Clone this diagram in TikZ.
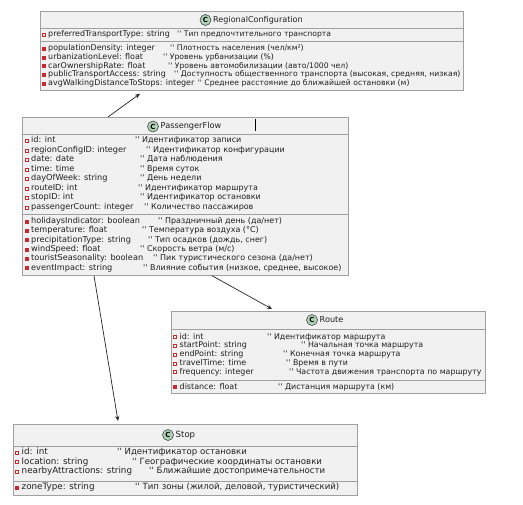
\documentclass[tikz,border=0pt]{standalone}
\usepackage{fontspec}
\setmainfont{DejaVu Sans}[Ligatures=TeXOff]
\usetikzlibrary{arrows.meta}
\definecolor{boxfill}{HTML}{F1F1F1}
\definecolor{boxline}{HTML}{A0A0A0}
\definecolor{iconred}{HTML}{C82930}
\definecolor{circgreen}{HTML}{ADD1B2}
\definecolor{txtcol}{HTML}{202020}
\newcounter{rowc}
\def\fsz{8}\def\csz{7.7}\def\tsz{8.1}
\newcommand\frow[6]{%
  \stepcounter{rowc}%
  \node[#3] (ic\therowc) at (#1,#2) {};
  \node[txt] (fl\therowc) at (#1+4.5,#2) {#4};
  \node[ctxt] (cm\therowc) at (#5,#2) {#6};}
\newcommand\frowr[5]{%
  \stepcounter{rowc}%
  \node[#3] (ic\therowc) at (#1,#2) {};
  \node[txt] (fl\therowc) at (#1+4.5,#2) {#4};
  \node[ctxt] (cm\therowc) at ([xshift=3bp]fl\therowc.east) {#5};}
\newcommand\chead[3]{%
  \stepcounter{rowc}%
  \node[cmark] (cc\therowc) at (#1,#2) {C};
  \node[ttl] (tt\therowc) at (#1+7.5,#2) {#3};}
\tikzset{
  cls/.style={draw=boxline, fill=boxfill, line width=0.7bp, inner sep=0, anchor=north west},
  sepl/.style={draw=boxline, line width=0.7bp},
  pv/.style={draw=iconred, line width=0.45bp, minimum size=3bp, inner sep=0},
  pvf/.style={draw=iconred, fill=iconred, line width=0.45bp, minimum size=3bp, inner sep=0},
  txt/.style={anchor=west, inner sep=0, text=txtcol, font=\fontsize{\fsz}{9}\selectfont, text height=5.6bp, text depth=1.6bp},
  ctxt/.style={anchor=west, inner sep=0, text=txtcol, font=\fontsize{\csz}{9}\selectfont, text height=5.6bp, text depth=1.6bp},
  ttl/.style={anchor=west, inner sep=0, text=txtcol, font=\fontsize{\tsz}{9}\selectfont, text height=5.8bp, text depth=1.7bp},
  cmark/.style={circle, draw=black!80, fill=circgreen, line width=0.5bp, minimum size=11bp, inner sep=0, font=\fontsize{7}{7}\bfseries\selectfont},
  arr/.style={draw=black!85, line width=0.7bp, -{Stealth[length=5bp,width=4.2bp]}}
}
\begin{document}
\begin{tikzpicture}[x=1bp,y=-1bp]
\useasboundingbox[fill=white] (0,0) rectangle (523,505);

% ---------- RegionalConfiguration
\def\fsz{8}\def\csz{7.7}\def\tsz{8.1}
\node[cls, minimum width=423bp, minimum height=79bp] (rc) at (40,11) {};
\draw[sepl] (40,28) -- (463,28);
\draw[sepl] (40,41.5) -- (463,41.5);
\chead{205.5}{20}{RegionalConfiguration}
\frow{43.5}{35}{pv}{preferredTransportType: string}{177}{'' Тип предпочтительного транспорта}
\frow{43.5}{48.5}{pvf}{populationDensity: integer}{170}{'' Плотность населения (чел/км²)}
\frow{43.5}{57.3}{pvf}{urbanizationLevel: float}{163}{'' Уровень урбанизации (\%)}
\frow{43.5}{66.1}{pvf}{carOwnershipRate: float}{168}{'' Уровень автомобилизации (авто/1000 чел)}
\frow{43.5}{74.9}{pvf}{publicTransportAccess: string}{174}{'' Доступность общественного транспорта (высокая, средняя, низкая)}
\frowr{43.5}{83.7}{pvf}{avgWalkingDistanceToStops: integer}{'' Среднее расстояние до ближайшей остановки (м)}

% ---------- PassengerFlow
\def\fsz{8.2}\def\csz{8}\def\tsz{8.2}
\node[cls, minimum width=326bp, minimum height=158bp] (pf) at (22,117) {};
\draw[sepl] (22,134.5) -- (348,134.5);
\draw[sepl] (22,214.5) -- (348,214.5);
\chead{153}{126.5}{PassengerFlow}
\draw[black, line width=0.6bp] (255,119.5) -- (255,131);
\frow{26.5}{141}{pv}{id: int}{135}{'' Идентификатор записи}
\frow{26.5}{150.5}{pv}{regionConfigID: integer}{146}{'' Идентификатор конфигурации}
\frow{26.5}{160}{pv}{date: date}{140}{'' Дата наблюдения}
\frow{26.5}{169.5}{pv}{time: time}{140}{'' Время суток}
\frow{26.5}{179}{pv}{dayOfWeek: string}{140}{'' День недели}
\frow{26.5}{188.5}{pv}{routeID: int}{138}{'' Идентификатор маршрута}
\frow{26.5}{198}{pv}{stopID: int}{140}{'' Идентификатор остановки}
\frow{26.5}{207.5}{pv}{passengerCount: integer}{144}{'' Количество пассажиров}
\frow{26.5}{221.5}{pvf}{holidaysIndicator: boolean}{158}{'' Праздничный день (да/нет)}
\frow{26.5}{230.8}{pvf}{temperature: float}{142}{'' Температура воздуха (°C)}
\frow{26.5}{240.1}{pvf}{precipitationType: string}{148}{'' Тип осадков (дождь, снег)}
\frow{26.5}{249.4}{pvf}{windSpeed: float}{140}{'' Скорость ветра (м/с)}
\frow{26.5}{258.7}{pvf}{touristSeasonality: boolean}{153}{'' Пик туристического сезона (да/нет)}
\frow{26.5}{268}{pvf}{eventImpact: string}{143}{'' Влияние события (низкое, среднее, высокое)}

% ---------- Route
\def\fsz{8}\def\csz{7.9}\def\tsz{8.2}
\node[cls, minimum width=314bp, minimum height=82bp] (route) at (171,311) {};
\draw[sepl] (171,329) -- (485,329);
\draw[sepl] (171,380) -- (485,380);
\chead{312}{320}{Route}
\frow{175}{337}{pv}{id: int}{267}{'' Идентификатор маршрута}
\frow{175}{345.8}{pv}{startPoint: string}{301}{'' Начальная точка маршрута}
\frow{175}{354.6}{pv}{endPoint: string}{283}{'' Конечная точка маршрута}
\frow{175}{363.4}{pv}{travelTime: time}{286}{'' Время в пути}
\frow{175}{372.2}{pv}{frequency: integer}{289}{'' Частота движения транспорта по маршруту}
\frow{175}{387}{pvf}{distance: float}{278}{'' Дистанция маршрута (км)}

% ---------- Stop
\def\fsz{8.8}\def\csz{8.6}\def\tsz{8.6}
\node[cls, minimum width=344bp, minimum height=71bp] (stop) at (13,424) {};
\draw[sepl] (13,446) -- (357,446);
\draw[sepl] (13,481) -- (357,481);
\chead{168}{435}{Stop}
\frow{17}{452.5}{pv}{id: int}{117}{'' Идентификатор остановки}
\frow{17}{462}{pv}{location: string}{132}{'' Географические координаты остановки}
\frow{17}{471.5}{pv}{nearbyAttractions: string}{149}{'' Ближайшие достопримечательности}
\frow{17}{487.5}{pvf}{zoneType: string}{135}{'' Тип зоны (жилой, деловой, туристический)}

% ---------- connectors
\draw[arr] ([xshift=86bp]pf.north west) -- ([xshift=100bp,yshift=-3bp]rc.south west);
\draw[arr] ([xshift=190bp]pf.south west) -- ([xshift=101bp,yshift=2bp]route.north west);
\draw[arr] ([xshift=72bp]pf.south west) -- ([xshift=105bp,yshift=3bp]stop.north west);
\end{tikzpicture}
\end{document}
